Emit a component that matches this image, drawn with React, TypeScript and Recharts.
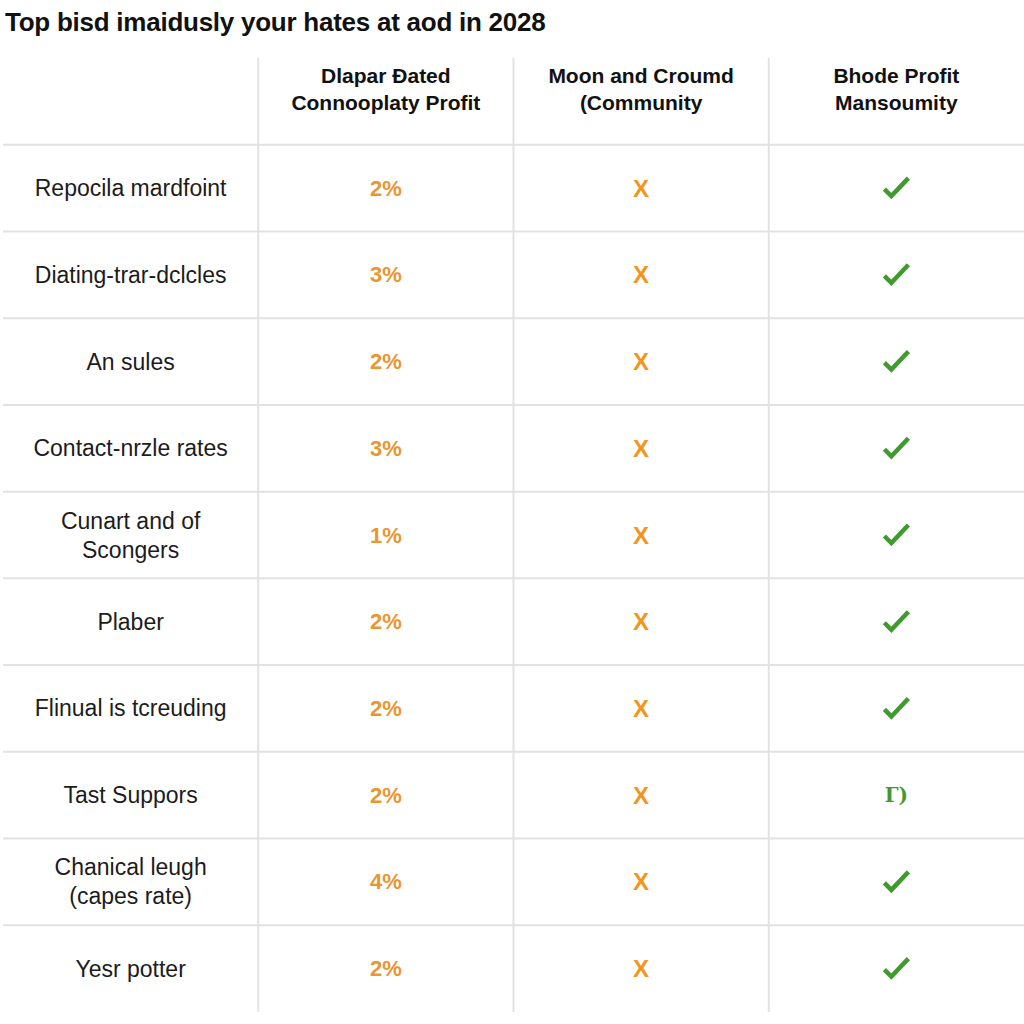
import { ScatterChart, Scatter, XAxis, YAxis, CartesianGrid } from "recharts";

const FONT = "'Liberation Sans', Arial, Helvetica, sans-serif";

const title = "Top bisd imaidusly your hates at aod in 2028";

const columnHeaders = [
  "",
  "Dlapar Đated\nConnooplaty Profit",
  "Moon and Croumd\n(Community",
  "Bhode Profit\nMansoumity",
];

const rowLabels = [
  "Repocila mardfoint",
  "Diating-trar-dclcles",
  "An sules",
  "Contact-nrzle rates",
  "Cunart and of\nScongers",
  "Plaber",
  "Flinual is tcreuding",
  "Tast Suppors",
  "Chanical leugh\n(capes rate)",
  "Yesr potter",
];

const profitShare = [2, 3, 2, 3, 1, 2, 2, 2, 4, 2];

const communityMarks = ["x", "x", "x", "x", "x", "x", "x", "x", "x", "x"];

const mansoumityMarks = ["check", "check", "check", "check", "check", "check", "check", "Г)", "check", "check"];

type Cell = { col: number; row: number; kind: string; text: string };

const cells: Cell[] = [];
columnHeaders.forEach((h, c) => cells.push({ col: c + 0.5, row: 0.5, kind: "header", text: h }));
rowLabels.forEach((label, i) => {
  const row = i + 1.5;
  cells.push({ col: 0.5, row, kind: "label", text: label });
  cells.push({ col: 1.5, row, kind: "pct", text: `${profitShare[i]}%` });
  cells.push({ col: 2.5, row, kind: communityMarks[i], text: "X" });
  cells.push({ col: 3.5, row, kind: mansoumityMarks[i] === "check" ? "check" : "glyph", text: mansoumityMarks[i] });
});

const rowTicks = rowLabels.map((_, i) => i + 1);
const colTicks = columnHeaders.slice(1).map((_, i) => i + 1);

function CellShape(props: any) {
  const { cx, cy, payload } = props;
  const kind = payload.kind;
  if (kind === "header" || kind === "label") {
    const lines = payload.text ? payload.text.split("\n") : [];
    const isHeader = kind === "header";
    const gap = isHeader ? 27 : 29;
    const start = isHeader ? cy - 12 - ((lines.length - 1) * gap) / 2 : cy - ((lines.length - 1) * gap) / 2;
    return (
      <g>
        {lines.map((ln: string, k: number) => (
          <text
            key={k}
            x={cx}
            y={start + k * gap}
            textAnchor="middle"
            dominantBaseline="central"
            fontFamily={FONT}
            fontSize={isHeader ? 21 : 23}
            fontWeight={isHeader ? 700 : 400}
            fill={isHeader ? "#111" : "#1c1c1c"}
          >
            {ln}
          </text>
        ))}
      </g>
    );
  }
  if (kind === "pct") {
    return (
      <text x={cx} y={cy} textAnchor="middle" dominantBaseline="central" fontFamily={FONT} fontSize={22} fontWeight={700} fill="#E9962F">
        {payload.text}
      </text>
    );
  }
  if (kind === "x") {
    return (
      <text x={cx} y={cy} textAnchor="middle" dominantBaseline="central" fontFamily={FONT} fontSize={24} fontWeight={700} fill="#F2951F">
        X
      </text>
    );
  }
  if (kind === "check") {
    return (
      <path
        d={`M${cx - 12},${cy + 1} L${cx - 5},${cy + 8} L${cx + 12},${cy - 10}`}
        fill="none"
        stroke="#3F9B2D"
        strokeWidth={4.5}
      />
    );
  }
  return (
    <text x={cx} y={cy} textAnchor="middle" dominantBaseline="central" fontFamily="'DejaVu Serif', serif" fontSize={20} fontWeight={700} fill="#3F9B2D">
      {payload.text}
    </text>
  );
}

export default function App() {
  return (
    <div style={{ position: "absolute", left: 0, top: 0, width: 1024, height: 1024, background: "#fff" }}>
      <div
        style={{
          position: "absolute",
          left: 5,
          top: 7,
          fontFamily: FONT,
          fontSize: 26,
          fontWeight: 700,
          color: "#111",
          letterSpacing: -0.25,
          whiteSpace: "nowrap",
        }}
      >
        {title}
      </div>
      <ScatterChart width={1024} height={1024} margin={{ top: 58, left: 3, right: 0, bottom: 12 }}>
        <CartesianGrid stroke="#E2E2E2" strokeWidth={2} horizontalValues={rowTicks} verticalValues={colTicks} />
        <XAxis type="number" dataKey="col" domain={[0, 4]} ticks={colTicks} hide />
        <YAxis type="number" dataKey="row" domain={[0, 11]} ticks={rowTicks} reversed hide />
        <Scatter data={cells} shape={<CellShape />} isAnimationActive={false} />
      </ScatterChart>
    </div>
  );
}
